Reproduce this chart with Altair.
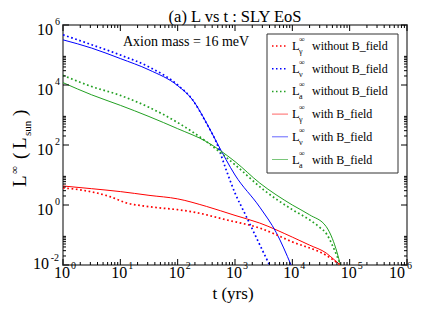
import altair as alt
import pandas as pd

SERIF = "Liberation Serif"
W, H = 344, 240

# ---------------- data ----------------
species = ["γ", "ν", "a"]
colors = ["#ff0000", "#0000ff", "#22a022"]

# without B field (dotted)
t_g_noB = [1, 2, 6.6, 12.9, 25, 49, 100, 182, 708, 2700, 10000, 39000, 69000]
L_g_noB = [3.7, 3.2, 1.9, 1.17, 0.93, 0.8, 0.7, 0.59, 0.32, 0.17, 0.059, 0.021, 0.01]
t_n_noB = [1, 3.16, 10, 31.6, 100, 182, 316, 478, 700, 1000, 1500, 2300, 4000]
L_n_noB = [4.7e5, 2.2e5, 1.0e5, 4.0e4, 1.0e4, 3.2e3, 540, 117, 15, 2.5, 0.5, 0.09, 0.01]
t_a_noB = [1, 3.16, 10, 31.6, 100, 316, 1000, 3160, 10000, 20000, 30000, 40000, 50000, 60000, 69000]
L_a_noB = [2.1e4, 8.9e3, 4.5e3, 1.8e3, 560, 130, 22, 3.2, 0.7, 0.32, 0.18, 0.105, 0.045, 0.02, 0.01]

# with B field (solid)
t_g_B = [1, 3.16, 10, 31.6, 100, 316, 1000, 2700, 10000, 20000, 39000, 56000, 69000]
L_g_B = [4.3, 3.5, 2.8, 2.1, 1.6, 0.9, 0.45, 0.25, 0.085, 0.046, 0.025, 0.014, 0.01]
t_n_B = [1, 3.16, 10, 31.6, 100, 182, 316, 478, 1000, 2700, 5250, 9500]
L_n_B = [3.2e5, 1.7e5, 7.6e4, 3.2e4, 9.5e3, 3.2e3, 560, 125, 10, 0.85, 0.12, 0.01]
t_a_B = [1, 3.16, 10, 31.6, 100, 316, 1000, 2700, 10000, 20000, 39000, 50000, 60000, 69000]
L_a_B = [1.2e4, 4.7e3, 2.1e3, 890, 350, 130, 28, 5.4, 1.0, 0.47, 0.19, 0.075, 0.027, 0.01]

x_major = [1, 10, 100, 1e3, 1e4, 1e5, 1e6]
x_exps = ["0", "1", "2", "3", "4", "5", "6"]
y_major = [1e-2, 1, 1e2, 1e4, 1e6]
y_exps = ["-2", "0", "2", "4", "6"]
x_minor = [k * 10 ** j for j in range(0, 6) for k in range(2, 10)]
y_minor = [k * 10 ** j for j in (-2, 0, 2, 4) for k in range(2, 10)]

legend_subs = ["γ", "ν", "a", "γ", "ν", "a"]
legend_texts = ["without B_field"] * 3 + ["with B_field"] * 3
legend_dotted = [True, True, True, False, False, False]

title_text = "(a) L vs t : SLY EoS"
annot_text = "Axion mass = 16 meV"
xtitle_text = "t (yrs)"

# ---------------- tables ----------------
def mk(ts, Ls, sp):
    return pd.DataFrame({"t": ts, "L": Ls, "sp": sp})

dotted_df = pd.concat([mk(t_g_noB, L_g_noB, "γ"), mk(t_n_noB, L_n_noB, "ν"), mk(t_a_noB, L_a_noB, "a")])
solid_df = pd.concat([mk(t_g_B, L_g_B, "γ"), mk(t_n_B, L_n_B, "ν"), mk(t_a_B, L_a_B, "a")])

xs = alt.Scale(type="log", domain=[1, 1e6], nice=False)
ys = alt.Scale(type="log", domain=[1e-2, 1e6], nice=False)
cs = alt.Scale(domain=species, range=colors)

one = pd.DataFrame({"k": [0]})


def txt(s, x, y, size, align="left", angle=0, dy=0):
    return alt.Chart(one).mark_text(
        font=SERIF, fontSize=size, align=align, baseline="alphabetic",
        angle=angle, dy=dy, color="black"
    ).encode(x=alt.value(x), y=alt.value(y), text=alt.value(s))


layers = []

# curves
layers.append(alt.Chart(solid_df).mark_line(strokeWidth=1, interpolate="monotone", clip=True).encode(
    x=alt.X("t:Q", scale=xs, axis=None), y=alt.Y("L:Q", scale=ys, axis=None),
    color=alt.Color("sp:N", scale=cs, legend=None)))
layers.append(alt.Chart(dotted_df).mark_line(strokeWidth=1.7, strokeDash=[1.7, 2.6], interpolate="monotone", clip=True).encode(
    x=alt.X("t:Q", scale=xs, axis=None), y=alt.Y("L:Q", scale=ys, axis=None),
    color=alt.Color("sp:N", scale=cs, legend=None)))

# ticks (inward, on all four sides)
xmaj = pd.DataFrame({"v": x_major})
xmin = pd.DataFrame({"v": x_minor})
ymaj = pd.DataFrame({"v": y_major})
ymin = pd.DataFrame({"v": y_minor})
for df, size in ((xmaj, 6), (xmin, 3)):
    for y0, y1 in ((H, H - size), (0, size)):
        layers.append(alt.Chart(df).mark_rule(color="black", strokeWidth=1).encode(
            x=alt.X("v:Q", scale=xs, axis=None), y=alt.value(y0), y2=alt.value(y1)))
for df, size in ((ymaj, 6), (ymin, 3)):
    for x0, x1 in ((0, size), (W, W - size)):
        layers.append(alt.Chart(df).mark_rule(color="black", strokeWidth=1).encode(
            y=alt.Y("v:Q", scale=ys, axis=None), x=alt.value(x0), x2=alt.value(x1)))

# x tick labels
xlab = pd.DataFrame({"v": x_major, "e": x_exps, "b": ["10"] * len(x_major)})
layers.append(alt.Chart(xlab).transform_filter("datum.v < 1e6").mark_text(
    font=SERIF, fontSize=16, align="center", baseline="alphabetic", dx=-1).encode(
    x=alt.X("v:Q", scale=xs, axis=None), y=alt.value(253), text="b:N"))
layers.append(alt.Chart(xlab).transform_filter("datum.v < 1e6").mark_text(
    font=SERIF, fontSize=10, align="left", baseline="alphabetic", dx=8).encode(
    x=alt.X("v:Q", scale=xs, axis=None), y=alt.value(244), text="e:N"))
layers.append(alt.Chart(xlab).transform_filter("datum.v >= 1e6").mark_text(
    font=SERIF, fontSize=16, align="center", baseline="alphabetic", dx=-10).encode(
    x=alt.X("v:Q", scale=xs, axis=None), y=alt.value(253), text="b:N"))
layers.append(alt.Chart(xlab).transform_filter("datum.v >= 1e6").mark_text(
    font=SERIF, fontSize=10, align="left", baseline="alphabetic", dx=0).encode(
    x=alt.X("v:Q", scale=xs, axis=None), y=alt.value(244), text="e:N"))

# y tick labels
ylab = pd.DataFrame({"v": y_major, "e": y_exps, "b": ["10"] * len(y_major)})
layers.append(alt.Chart(ylab).transform_filter("datum.v >= 1").mark_text(
    font=SERIF, fontSize=16, align="right", baseline="alphabetic", dy=10).encode(
    y=alt.Y("v:Q", scale=ys, axis=None), x=alt.value(-10), text="b:N"))
layers.append(alt.Chart(ylab).transform_filter("datum.v >= 1").mark_text(
    font=SERIF, fontSize=10, align="right", baseline="alphabetic", dy=0).encode(
    y=alt.Y("v:Q", scale=ys, axis=None), x=alt.value(-3), text="e:N"))
layers.append(alt.Chart(ylab).transform_filter("datum.v < 1").mark_text(
    font=SERIF, fontSize=16, align="right", baseline="alphabetic", dy=4).encode(
    y=alt.Y("v:Q", scale=ys, axis=None), x=alt.value(-14), text="b:N"))
layers.append(alt.Chart(ylab).transform_filter("datum.v < 1").mark_text(
    font=SERIF, fontSize=10, align="right", baseline="alphabetic", dy=-4).encode(
    y=alt.Y("v:Q", scale=ys, axis=None), x=alt.value(-4), text="e:N"))

# y axis title (rotated, with super/subscripts)
YT = -37
layers.append(txt("L", YT, 162, 19, angle=270))
layers.append(txt("∞", YT, 149, 11, angle=270, dy=-8))
layers.append(txt("(", YT, 134, 19, angle=270))
layers.append(txt("L", YT, 124, 19, angle=270))
layers.append(txt("sun", YT, 111, 11, angle=270, dy=5))
layers.append(txt(")", YT, 91, 19, angle=270))

# titles / annotation
layers.append(txt(title_text, 172, -3, 16.5, align="center"))
layers.append(txt(xtitle_text, 170, 274, 17, align="center"))
layers.append(txt(annot_text, 60, 21, 14))

# legend
layers.append(alt.Chart(one).mark_rect(fill="white", stroke="#333333", strokeWidth=1).encode(
    x=alt.value(204), x2=alt.value(335), y=alt.value(9), y2=alt.value(148)))
for i in range(6):
    yb = 25 + 22.7 * i
    col = colors[i % 3]
    if legend_dotted[i]:
        mk_rule = alt.Chart(one).mark_rule(color=col, strokeWidth=1.5, strokeDash=[1.5, 2.5])
    else:
        mk_rule = alt.Chart(one).mark_rule(color=col, strokeWidth=1, opacity=0.6)
    layers.append(mk_rule.encode(x=alt.value(209), x2=alt.value(225), y=alt.value(yb - 4)))
    layers.append(txt("L", 229, yb, 12.5))
    layers.append(txt("∞", 236, yb - 8, 8))
    layers.append(txt(legend_subs[i], 236, yb + 4, 8))
    layers.append(txt(legend_texts[i], 249, yb, 12))

chart = alt.layer(*layers).properties(
    width=W, height=H,
    padding={"left": 55, "top": 17, "right": 7, "bottom": 39},
    autosize=alt.AutoSizeParams(type="none"),
).configure_view(stroke="#808080", strokeWidth=2)

chart.save("out.html", embed_options={"renderer": "svg", "actions": False})
